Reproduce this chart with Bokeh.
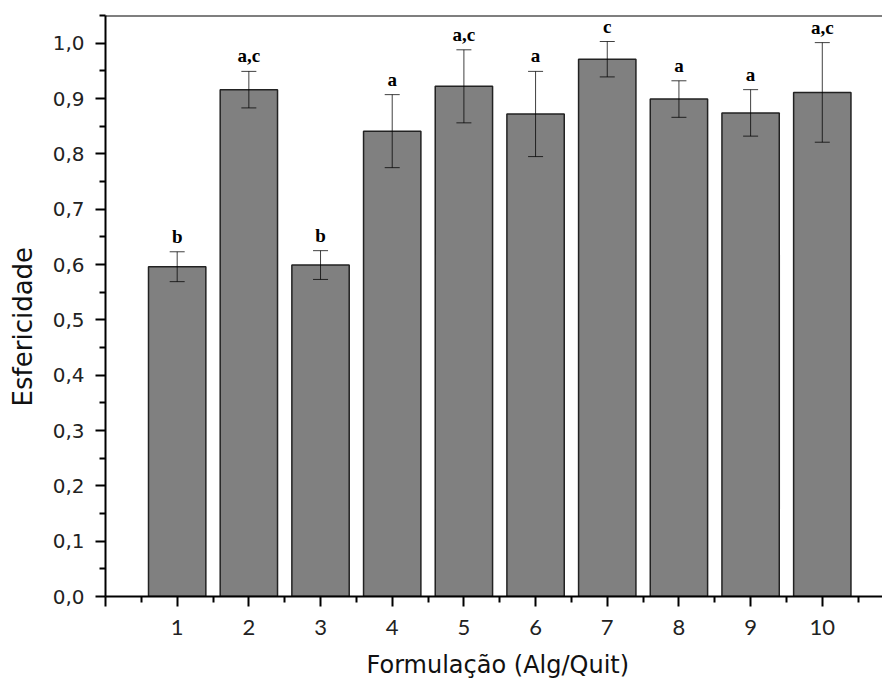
from bokeh.plotting import figure
from bokeh.models import (ColumnDataSource, Whisker, TeeHead, FixedTicker,
                          CustomJSTickFormatter, Span, Range1d)
from bokeh.core.properties import value
from bokeh.embed import file_html
from bokeh.resources import INLINE

# Data
formulations = [1, 2, 3, 4, 5, 6, 7, 8, 9, 10]
sphericity = [0.596, 0.916, 0.599, 0.841, 0.922, 0.872, 0.971, 0.899, 0.874, 0.911]
errors = [0.027, 0.033, 0.026, 0.066, 0.066, 0.077, 0.032, 0.033, 0.042, 0.090]
groups = ["b", "a,c", "b", "a", "a,c", "a", "c", "a", "a", "a,c"]

y_ticks = [0.0, 0.1, 0.2, 0.3, 0.4, 0.5, 0.6, 0.7, 0.8, 0.9, 1.0]
y_minor = [0.05, 0.15, 0.25, 0.35, 0.45, 0.55, 0.65, 0.75, 0.85, 0.95, 1.05]
x_ticks = [0, 1, 2, 3, 4, 5, 6, 7, 8, 9, 10]
x_minor = [0.5, 1.5, 2.5, 3.5, 4.5, 5.5, 6.5, 7.5, 8.5, 9.5, 10.5]

x_start, x_end = 0, 10.84
y_start, y_end = 0, 1.05

src = ColumnDataSource(dict(
    x=formulations,
    top=sphericity,
    upper=[v + e for v, e in zip(sphericity, errors)],
    lower=[v - e for v, e in zip(sphericity, errors)],
    grp=groups,
))

p = figure(width=882, height=681, x_range=Range1d(x_start, x_end),
           y_range=Range1d(y_start, y_end),
           output_backend="svg", toolbar_location=None,
           min_border_left=105, min_border_right=0, min_border_top=15, min_border_bottom=84)
p.outline_line_color = None
p.grid.visible = False
p.background_fill_color = "white"

p.vbar(x="x", top="top", width=0.8, source=src, fill_color="#808080",
       line_color="#222222", line_width=1.5)

head_kw = dict(size=15, line_color="black", line_width=1, line_alpha=0.75)
wh = Whisker(base="x", upper="upper", lower="lower", source=src,
             line_color="black", line_width=1, line_alpha=0.75,
             upper_head=TeeHead(**head_kw), lower_head=TeeHead(**head_kw),
             level="overlay")
p.add_layout(wh)

p.text(x="x", y="upper", text="grp", source=src, text_font=value("Liberation Serif"),
       text_font_style="bold", text_font_size="19px", text_align="center",
       text_baseline="bottom", y_offset=-5, text_color="black")

p.add_layout(Span(location=y_end, dimension="width", line_color="black", line_width=2))

for ax in (p.xaxis[0], p.yaxis[0]):
    ax.axis_line_width = 2
    ax.axis_line_color = "black"
    ax.major_tick_line_width = 2
    ax.minor_tick_line_width = 2
    ax.major_tick_out = 10
    ax.major_tick_in = 0
    ax.minor_tick_out = 6
    ax.minor_tick_in = 0
    ax.axis_label_text_font_style = "normal"
    ax.axis_label_text_color = "#111111"
    ax.major_label_text_color = "#222222"

NBSP = "\u00a0"

xa = p.xaxis[0]
xa.ticker = FixedTicker(ticks=x_ticks, minor_ticks=x_minor)
xa.formatter = CustomJSTickFormatter(code="return tick == 0 ? '' : tick.toString();")
xa.major_label_text_font = "Lato"
xa.major_label_text_font_size = "22px"
xa.major_label_standoff = 13
xa.axis_label = NBSP + "Formulação (Alg/Quit)"
xa.axis_label_text_font = "DejaVu Sans"
xa.axis_label_text_font_size = "24px"
xa.axis_label_standoff = 13

ya = p.yaxis[0]
ya.ticker = FixedTicker(ticks=y_ticks, minor_ticks=y_minor)
ya.formatter = CustomJSTickFormatter(code="return tick.toFixed(1).replace('.', ',');")
ya.major_label_text_font = "DejaVu Sans"
ya.major_label_text_font_size = "20px"
ya.major_label_standoff = 11
ya.axis_label = "Esfericidade" + NBSP * 5
ya.axis_label_text_font = "DejaVu Sans"
ya.axis_label_text_font_size = "26px"
ya.axis_label_standoff = 12

open("out.html", "w").write(file_html(p, INLINE))
